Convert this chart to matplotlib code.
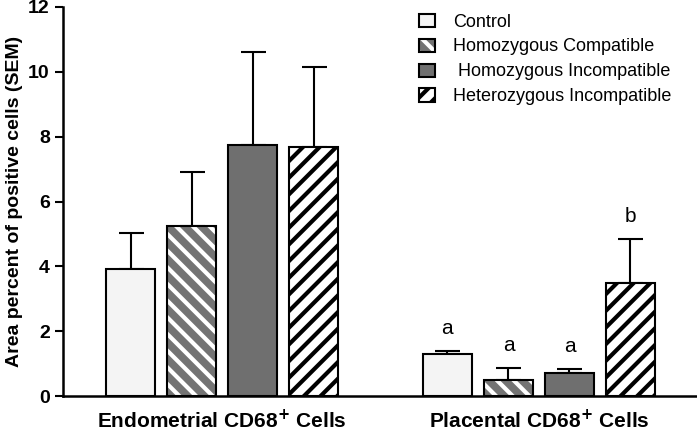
import matplotlib
matplotlib.use("Agg")
import matplotlib.pyplot as plt
import numpy as np

plt.rcParams['font.family'] = ['Liberation Sans', 'DejaVu Sans']
plt.rcParams['hatch.linewidth'] = 3.0

# data
groups = ["Endometrial CD68$^\\mathbf{+}$ Cells", "Placental CD68$^\\mathbf{+}$ Cells"]
series = ["Control", "Homozygous Compatible", " Homozygous Incompatible", "Heterozygous Incompatible"]
means = [[3.92, 1.30],
         [5.25, 0.50],
         [7.75, 0.72],
         [7.68, 3.49]]
sems = [[1.11, 0.10],
        [1.66, 0.35],
        [2.87, 0.11],
        [2.47, 1.36]]
letters = [[None, "a"], [None, "a"], [None, "a"], [None, "b"]]

faces = ["#f4f4f4", "#737373", "#6f6f6f", "white"]
hatches = [None, "\\\\", None, "//"]
hatch_cols = [None, "white", None, "black"]

fig = plt.figure(figsize=(6.97, 4.32), dpi=100)
ax = fig.add_axes([0.0904, 0.0833, 0.9096, 0.9005])

centers = np.array([0, 5.19])
width = 0.8
handles = []
for i in range(4):
    x = centers + (i - 1.5)
    if hatches[i]:
        h1 = ax.bar(x, means[i], width, color=faces[i], edgecolor=hatch_cols[i],
                    hatch=hatches[i], linewidth=0, zorder=2)
        h2 = ax.bar(x, means[i], width, facecolor="none", edgecolor="black",
                    linewidth=1.5, zorder=3)
        handles.append((h1[0], h2[0]))
    else:
        h = ax.bar(x, means[i], width, color=faces[i], edgecolor="black",
                   linewidth=1.5, zorder=2)
        handles.append(h[0])
    ax.errorbar(x, means[i], yerr=[np.zeros(2), sems[i]], fmt="none",
                ecolor="black", elinewidth=1.5, capsize=9, capthick=1.5, zorder=1)
    for j in range(2):
        if letters[i][j]:
            ax.text(x[j], means[i][j] + sems[i][j] + 0.4, letters[i][j],
                    ha="center", va="bottom", fontsize=15)

ax.set_xlim(-2.61, 7.78)
ax.set_ylim(0, 12)
ax.set_yticks(range(0, 13, 2))
ax.set_xticks(centers)
ax.set_xticklabels(groups, fontsize=15, fontweight="bold")
ax.tick_params(axis="x", length=0, pad=9)
ax.tick_params(axis="y", length=6, width=1.5, labelsize=14, direction="out")
for lab in ax.get_yticklabels():
    lab.set_fontweight("bold")
ax.spines["top"].set_visible(False)
ax.spines["right"].set_visible(False)
ax.spines["left"].set_linewidth(1.8)
ax.spines["bottom"].set_linewidth(1.8)
ax.set_ylabel("Area percent of positive cells (SEM)", fontsize=14, fontweight="bold", labelpad=4)

ax.legend(handles, series, loc="upper left", bbox_to_anchor=(0.536, 1.025), frameon=False,
          fontsize=13, handlelength=0.9, handleheight=0.75, labelspacing=0.44, handletextpad=1.0)

fig.savefig("out.png", dpi=100)
